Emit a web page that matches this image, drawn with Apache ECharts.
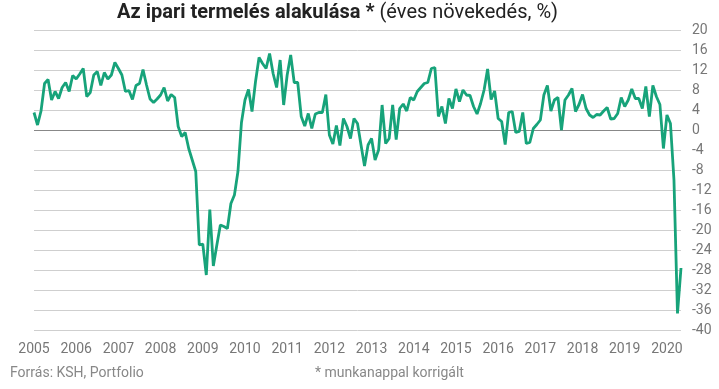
<!DOCTYPE html>
<html><head><meta charset="utf-8">
<script src="https://cdn.jsdelivr.net/npm/echarts@6/dist/echarts.min.js"></script>
<style>html,body{margin:0;padding:0;background:#fff}#c{width:719px;height:389px}</style>
</head><body><div id="c"></div>
<script>
const years = [2005,2006,2007,2008,2009,2010,2011,2012,2013,2014,2015,2016,2017,2018,2019,2020];
const yTicks = [-40,-36,-32,-28,-24,-20,-16,-12,-8,-4,0,4,8,12,16,20];
const v2005 = [3.5,1.0,3.8,9.3,10.1,6.0,7.7,6.3,8.5,9.5,7.7,10.9];
const v2006 = [10.2,11.2,12.3,6.7,7.5,11.0,11.7,8.9,11.5,10.2,11.0,13.5];
const v2007 = [12.3,11.0,7.7,7.9,6.1,8.9,9.3,12.1,9.0,6.2,5.5,6.2];
const v2008 = [7.0,8.5,5.8,7.1,6.5,0.7,-1.3,-0.5,-3.7,-6.0,-8.3,-23.0];
const v2009 = [-22.8,-29.0,-15.9,-27.2,-23.0,-19.0,-19.3,-19.7,-14.7,-13.0,-8.3,1.5];
const v2010 = [6.0,8.1,3.7,9.7,14.5,13.3,12.3,15.3,11.3,8.5,14.0,5.0];
const v2011 = [11.0,15.0,9.5,9.5,2.7,0.8,3.3,0.3,3.2,3.5,3.5,7.1];
const v2012 = [-1.0,-2.8,0.9,-3.1,2.3,0.7,-1.7,2.3,1.3,-3.0,-7.2,-3.0];
const v2013 = [-1.7,-6.0,-4.0,5.0,-2.7,-1.7,5.0,-1.9,4.3,5.2,3.8,6.5];
const v2014 = [6.0,7.7,8.5,9.3,9.5,12.3,12.5,2.7,4.7,1.3,6.3,4.3];
const v2015 = [8.2,5.7,8.0,7.0,6.9,4.7,3.2,5.3,8.0,12.2,6.1,7.8];
const v2016 = [2.3,1.7,-2.9,3.5,3.7,-0.5,-0.3,3.5,-2.7,-2.5,0.3,1.1];
const v2017 = [2.0,7.0,8.9,3.8,6.0,6.5,0.0,6.0,7.0,8.3,3.7,5.1];
const v2018 = [7.1,4.3,3.0,2.5,3.1,3.0,3.8,4.5,2.2,2.3,3.3,6.5];
const v2019 = [4.7,6.0,8.2,6.3,6.3,4.3,8.7,2.7,8.9,6.7,5.1,-3.7];
const v2020 = [3.0,1.3,-10.0,-36.7,-27.6];

const values = [].concat(v2005,v2006,v2007,v2008,v2009,v2010,v2011,v2012,v2013,v2014,v2015,v2016,v2017,v2018,v2019,v2020);
const months = values.map((_, i) => {
  const y = years[0] + Math.floor(i / 12);
  const m = (i % 12) + 1;
  return y + '-' + (m < 10 ? '0' + m : m);
});

const chart = echarts.init(document.getElementById('c'), null, {renderer: 'canvas'});
const font = 'Roboto, "Liberation Sans", sans-serif';
chart.setOption({
  animation: false,
  title: {
    text: '{b|Az ipari termelés alakulása *} {n|(éves növekedés, %)}',
    left: 117, top: 3, padding: 0,
    textStyle: {
      rich: {
        b: {fontFamily: font, fontWeight: 'bold', fontSize: 20, color: '#222'},
        n: {fontFamily: font, fontWeight: 'normal', fontSize: 20, color: '#222'}
      }
    }
  },
  grid: {left: 34, right: 38, top: 30, bottom: 59, containLabel: false},
  xAxis: {
    type: 'category',
    data: months,
    boundaryGap: false,
    axisLine: {show: false},
    axisTick: {show: false},
    splitLine: {show: false},
    axisLabel: {
      interval: (idx) => idx % 12 === 0,
      formatter: (v) => v.slice(0, 4),
      color: '#777', fontFamily: font, fontSize: 14, margin: 12
    }
  },
  yAxis: {
    type: 'value',
    position: 'right',
    min: yTicks[0], max: yTicks[yTicks.length - 1], interval: 4,
    axisLine: {show: false},
    axisTick: {show: false},
    splitLine: {lineStyle: {color: '#cfcfcf', width: 1}},
    axisLabel: {color: '#777', fontFamily: font, fontSize: 14, margin: 11}
  },
  series: [{
    type: 'line',
    data: values,
    symbol: 'none',
    lineStyle: {color: '#17a37a', width: 2.8},
    z: 3,
    markLine: {
      silent: true, symbol: 'none', label: {show: false},
      lineStyle: {color: '#888', width: 1, type: 'solid'},
      data: [{yAxis: 0}],
      z: 2
    }
  }],
  graphic: [
    {type: 'text', left: 10, top: 366, style: {text: 'Forrás: KSH, Portfolio', fill: '#888', font: '14px ' + font}},
    {type: 'text', left: 315, top: 366, style: {text: '* munkanappal korrigált', fill: '#888', font: '14px ' + font}}
  ]
});
</script></body></html>
